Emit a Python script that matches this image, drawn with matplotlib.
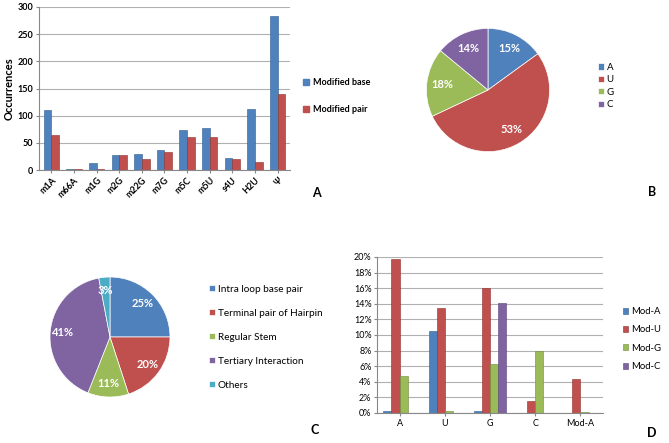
"""Four-panel figure: modified base counts, nucleotide pie, structure pie, modification bars."""

import matplotlib

matplotlib.use("Agg")
import matplotlib.pyplot as plt
import numpy as np
from matplotlib.patches import Patch

plt.rcParams["font.family"] = ["Lato", "DejaVu Sans"]

# panel A
mods = ["m1A", "m66A", "m1G", "m2G", "m22G", "m7G", "m5C", "m5U", "s4U", "H2U", "Ψ"]
modified_base = [110, 2, 12, 28, 30, 37, 74, 77, 22, 113, 284]
modified_pair = [65, 2, 2, 27, 20, 34, 60, 61, 21, 14, 140]

# panel B
nuc_labels = ["A", "U", "G", "C"]
nuc_share = [15, 53, 18, 14]

# panel C
struct_labels = ["Intra loop base pair", "Terminal pair of Hairpin", "Regular Stem",
                 "Tertiary Interaction", "Others"]
struct_share = [25, 20, 11, 41, 3]

# panel D
d_groups = ["A", "U", "G", "C", "Mod-A"]
d_series = ["Mod-A", "Mod-U", "Mod-G", "Mod-C"]
mod_a = [0.2, 10.5, 0.2, 0.0, 0.0]
mod_u = [19.8, 13.4, 16.0, 1.6, 4.4]
mod_g = [4.7, 0.2, 6.3, 8.0, 0.1]
mod_c = [0.0, 0.0, 14.1, 0.0, 0.0]

BLUE = "#4F81BD"
RED = "#C0504D"
GREEN = "#9BBB59"
PURPLE = "#8064A2"
CYAN = "#4BACC6"
GRID = "#B0B0B0"

W, H = 669, 443


def px_axes(fig, x0, y0, x1, y1):
    return fig.add_axes([x0 / W, 1 - y1 / H, (x1 - x0) / W, (y1 - y0) / H])


def style_bar_axes(ax):
    ax.spines["top"].set_visible(False)
    ax.spines["right"].set_visible(False)
    ax.spines["left"].set_color("#888888")
    ax.spines["bottom"].set_color("#888888")
    ax.yaxis.grid(True, color=GRID, linewidth=0.8)
    ax.set_axisbelow(True)
    ax.tick_params(length=2, color="#888888", pad=2)


def pct(p):
    return f"{round(p)}%"


fig = plt.figure(figsize=(W / 100, H / 100), dpi=100)

# ---- A
ax = px_axes(fig, 39, 7, 290, 170)
x = np.arange(len(mods))
w = 0.34
ax.bar(x - w / 2, modified_base, w, color=BLUE, edgecolor="#2F5D8F", linewidth=0.4)
ax.bar(x + w / 2, modified_pair, w, color=RED, edgecolor="#8E2F2C", linewidth=0.4)
ax.set_xlim(-0.55, len(mods) - 0.45)
ax.set_ylim(0, 300)
ax.set_yticks(range(0, 301, 50))
ax.set_xticks(x)
ax.set_xticklabels(mods, rotation=45, ha="right", rotation_mode="anchor")
ax.set_ylabel("Occurrences", fontsize=8, fontweight="bold", labelpad=2)
for lbl in ax.get_xticklabels() + ax.get_yticklabels():
    lbl.set_fontsize(6.5)
    lbl.set_fontweight("bold")
style_bar_axes(ax)
fig.legend(handles=[Patch(color=BLUE, label="Modified base"), Patch(color=RED, label="Modified pair")],
           loc="center left", bbox_to_anchor=(295 / W, 1 - 96 / H), frameon=False,
           prop={"size": 6.5, "weight": "bold"}, handlelength=0.7, handleheight=0.7,
           handletextpad=0.4, labelspacing=2.0)
fig.text(316 / W, 1 - 193 / H, "A", fontsize=9, fontweight="bold", ha="center", va="center")

# ---- B
ax = px_axes(fig, 411, 13, 565, 167)
wedges, _, autotexts = ax.pie(nuc_share, colors=[BLUE, RED, GREEN, PURPLE], startangle=90,
                              counterclock=False, autopct=pct, pctdistance=0.75,
                              wedgeprops={"edgecolor": "white", "linewidth": 0.5})
for t in autotexts:
    t.set_color("white")
    t.set_fontweight("bold")
    t.set_fontsize(8)
ax.set_aspect("equal")
fig.legend(wedges, nuc_labels, loc="center left", bbox_to_anchor=(589 / W, 1 - 86 / H),
           frameon=False, fontsize=7, handlelength=0.6, handleheight=0.6,
           handletextpad=0.3, labelspacing=0.35)
fig.text(652 / W, 1 - 192 / H, "B", fontsize=9, fontweight="bold", ha="center", va="center")

# ---- C
ax = px_axes(fig, 35, 262, 185, 412)
wedges, _, autotexts = ax.pie(struct_share, colors=[BLUE, RED, GREEN, PURPLE, CYAN], startangle=90,
                              counterclock=False, autopct=pct, pctdistance=0.78,
                              wedgeprops={"edgecolor": "white", "linewidth": 0.5})
for t in autotexts:
    t.set_color("white")
    t.set_fontweight("bold")
    t.set_fontsize(8)
ax.set_aspect("equal")
fig.legend(wedges, struct_labels, loc="center left", bbox_to_anchor=(200 / W, 1 - 337 / H),
           frameon=False, fontsize=7.2, handlelength=0.6, handleheight=0.6,
           handletextpad=0.3, labelspacing=1.5)
fig.text(315 / W, 1 - 430 / H, "C", fontsize=9, fontweight="bold", ha="center", va="center")

# ---- D
ax = px_axes(fig, 377, 257, 603, 413)
x = np.arange(len(d_groups))
w = 0.18
series = [mod_a, mod_u, mod_g, mod_c]
colors = [BLUE, RED, GREEN, PURPLE]
edges = ["#2F5D8F", "#8E2F2C", "#6E8A3C", "#5A4577"]
handles = []
for i, (vals, c, e, name) in enumerate(zip(series, colors, edges, d_series)):
    b = ax.bar(x + (i - 1.5) * w, vals, w, color=c, edgecolor=e, linewidth=0.4, label=name)
    handles.append(b)
ax.set_xlim(-0.5, len(d_groups) - 0.5)
ax.set_ylim(0, 20)
ax.set_yticks(range(0, 21, 2))
ax.set_yticklabels([f"{v}%" for v in range(0, 21, 2)])
ax.set_xticks(x)
ax.set_xticklabels(d_groups)
for lbl in ax.get_xticklabels() + ax.get_yticklabels():
    lbl.set_fontsize(6.5)
style_bar_axes(ax)
fig.legend(handles=handles, loc="center left", bbox_to_anchor=(617 / W, 1 - 339 / H),
           frameon=False, fontsize=6.8, handlelength=0.6, handleheight=0.6,
           handletextpad=0.3, labelspacing=1.0, borderaxespad=0.2)
fig.text(652 / W, 1 - 433 / H, "D", fontsize=9, fontweight="bold", ha="center", va="center")

fig.savefig("out.png", dpi=100)
